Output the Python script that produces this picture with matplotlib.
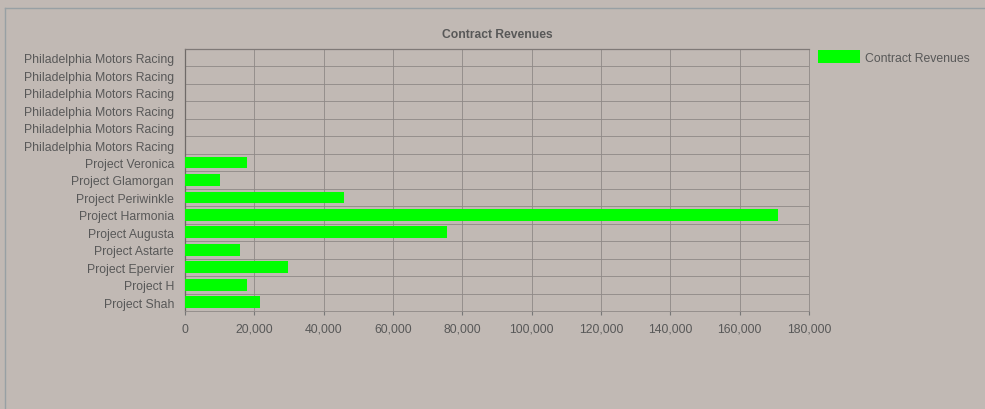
#!/usr/bin/env python
# -*- coding: utf-8 -*-

import numpy as np
import matplotlib
matplotlib.use("Agg")
import matplotlib.pyplot as plt
from matplotlib.ticker import FuncFormatter, FixedLocator
from matplotlib.lines import Line2D

# data, top to bottom as shown
projects = ["Philadelphia Motors Racing"] * 6 + [
    "Project Veronica",
    "Project Glamorgan",
    "Project Periwinkle",
    "Project Harmonia",
    "Project Augusta",
    "Project Astarte",
    "Project Epervier",
    "Project H",
    "Project Shah",
]
revenues = [0, 0, 0, 0, 0, 0,
            18000, 10000, 46000, 171000, 75500, 16000, 29800, 18000, 21600]
x_ticks = [0, 20000, 40000, 60000, 80000, 100000, 120000, 140000, 160000, 180000]

BG = "#c1b9b4"
TXT = "#585858"
GRID = "#8e8886"

plt.rcParams["font.family"] = ["Liberation Sans", "DejaVu Sans"]

W, H = 985, 410
fig = plt.figure(figsize=(W / 100, H / 100), dpi=100, facecolor=BG)

# axes box in pixels: left 185, right 809, top 50, bottom 312
ax = fig.add_axes([185 / W, 1 - 312 / H, (809 - 185) / W, (312 - 50) / H])
ax.set_facecolor(BG)

pos = np.arange(len(projects))
ax.barh(pos, revenues, height=0.68, color="#00ff00", edgecolor="none",
        label="Contract Revenues", zorder=3)

ax.set_ylim(len(projects) - 0.5, -0.5)
ax.set_xlim(0, 180000)

ax.set_yticks(pos)
ax.set_yticklabels(projects)
ax.yaxis.set_minor_locator(FixedLocator(np.arange(-0.5, len(projects), 1.0)))
ax.tick_params(axis="y", which="both", length=0, pad=8, labelsize=8.8, labelcolor=TXT)

ax.xaxis.set_major_locator(FixedLocator(x_ticks))
ax.xaxis.set_major_formatter(FuncFormatter(lambda v, p: f"{int(v):,}"))
ax.tick_params(axis="x", length=3, width=0.8, color="#777777", pad=5.5,
               labelsize=8.8, labelcolor=TXT)

ax.grid(True, axis="x", which="major", color=GRID, linewidth=0.6, zorder=1)
ax.grid(True, axis="y", which="minor", color=GRID, linewidth=0.6, zorder=1)

for s in ["top", "right", "bottom"]:
    ax.spines[s].set_color(GRID)
    ax.spines[s].set_linewidth(0.6)
ax.spines["top"].set_color("#7f7977")
ax.spines["top"].set_linewidth(0.9)
ax.spines["left"].set_color("#6f6a68")
ax.spines["left"].set_linewidth(0.9)

fig.text((185 + 809) / 2 / W, 1 - 34.5 / H, "Contract Revenues", ha="center",
         va="center", fontsize=8.7, fontweight="bold", color=TXT)

fig.legend(loc="upper left", bbox_to_anchor=(818 / W, 1 - 51 / H), frameon=False,
           fontsize=8.8, labelcolor=TXT, handlelength=3.4, handleheight=1.25,
           handletextpad=0.45, borderpad=0, borderaxespad=0)

# outer panel border
fig.add_artist(Line2D([5 / W, 1], [1 - 8.5 / H] * 2, color="#98a0a4", lw=1.0))
fig.add_artist(Line2D([5 / W] * 2, [0, 1 - 8.5 / H], color="#98a0a4", lw=1.0))

fig.savefig("out.png", dpi=100, facecolor=BG)
